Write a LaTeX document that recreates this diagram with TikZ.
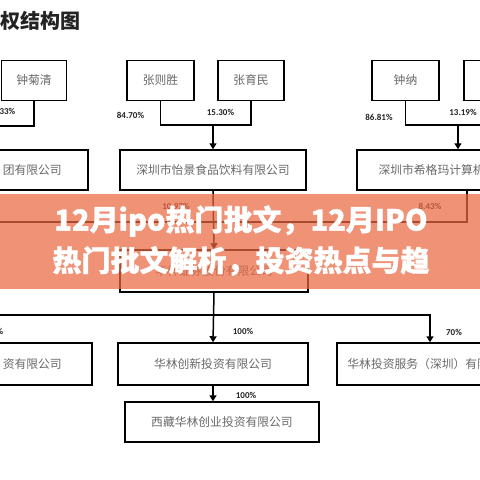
\documentclass[tikz,border=0pt]{standalone}
\usepackage{fontspec}
\newfontfamily\cjk{Noto Sans CJK SC}
\newfontfamily\cjkheavy{Noto Sans CJK SC}[FakeBold=1.2]
\newfontfamily\pctfont{Carlito}
\usetikzlibrary{arrows.meta}
\definecolor{boxtext}{RGB}{105,105,105}
\definecolor{pcttext}{RGB}{35,35,35}
\definecolor{banner}{RGB}{234,105,66}

\begin{document}
\begin{tikzpicture}[
    x=1pt, y=-1pt,
    >={Triangle[length=6pt,width=7pt]},
    line width=1.5pt,
    box/.style={draw, rectangle, minimum height=40pt, inner sep=0pt,
                font=\cjk\fontsize{11.8}{13}\selectfont, text=boxtext},
    cuttext/.style={anchor=west, inner sep=0pt,
                font=\cjk\fontsize{11.8}{13}\selectfont, text=boxtext},
    pct/.style={inner sep=0pt, font=\pctfont\bfseries\fontsize{9}{10}\selectfont, text=pcttext},
    headline/.style={inner sep=0pt, font=\cjkheavy\bfseries\fontsize{29}{31}\selectfont, text=white}
]
  \useasboundingbox (0,0) rectangle (480,480);
  \fill[white] (0,0) rectangle (480,480);

  % title
  \node[anchor=west, inner sep=0pt, font=\cjk\bfseries\fontsize{20}{22}\selectfont, text=pcttext] (title) at (0,21) {权结构图};

  % nodes
  \node[box, minimum width=65pt] (jjq) at (34,80.5)    {钟菊清};
  \node[box, minimum width=67pt] (zzs) at (160.5,80.5) {张则胜};
  \node[box, minimum width=66pt] (zym) at (251,80.5)   {张育民};
  \node[box, minimum width=67pt] (zn)  at (405.5,80.5) {钟纳};
  \node[box, minimum width=67pt] (cut) at (497.5,80.5) {};

  \node[box, minimum width=190pt] (jt)  at (-7,170)  {};
  \node[cuttext] (jtname) at (2,170) {团有限公司};
  \node[box, minimum width=186pt] (yj)  at (213,170) {深圳市怡景食品饮料有限公司};
  \node[box, minimum width=220pt] (xgm) at (467,170) {深圳市希格玛计算机技术有限公司};

  \node[box, minimum width=188pt, minimum height=42pt] (hl) at (214,271) {华林证券股份有限公司};

  \node[box, minimum width=194pt, minimum height=42pt] (tz) at (-5,364)  {};
  \node[cuttext] (tzname) at (2,364) {资有限公司};
  \node[box, minimum width=190pt, minimum height=42pt] (cx) at (213,364) {华林创新投资有限公司};
  \node[box, minimum width=186pt, minimum height=42pt] (fw) at (430,364) {华林投资服务（深圳）有限公司};

  \node[box, minimum width=194pt] (xz) at (222,422) {西藏华林创业投资有限公司};

  % percentages
  \node[pct, anchor=east] (p1) at (16,111) {33\%};
  \node[pct] (p2)  at (130.5,115) {84.70\%};
  \node[pct] (p3)  at (220.5,112) {15.30\%};
  \node[pct] (p4)  at (379,117)   {86.81\%};
  \node[pct] (p5)  at (463,112)   {13.19\%};
  \node[pct] (p6)  at (176,206)   {10.97\%};
  \node[pct] (p7)  at (430,206)   {8.43\%};
  \node[pct, anchor=east] (p8) at (4,331) {100\%};
  \node[pct] (p9)  at (243,331)   {100\%};
  \node[pct] (p10) at (454,332)   {70\%};
  \node[pct] (p11) at (246,395)   {100\%};

  % edges
  \coordinate (l1) at (-10,126);
  \coordinate (j1) at (213,125);
  \coordinate (j2) at (458,125);
  \coordinate (j3) at (213,222);
  \coordinate (j4) at (213,315);
  \draw (jjq.south) |- (l1);
  \draw (zzs.south) |- (j1) -| (zym.south);
  \draw[->] (j1) -- (yj.north);
  \draw (zn.south) |- (j2) -| (cut.south);
  \draw[->] (j2) -- (j2 |- xgm.north);
  \draw (jt.south) |- (j3) -| (xgm.south);
  \draw[->] (yj.south) -- (hl.north);
  \draw[->] (hl.south) -- (cx.north);
  \draw[->] (j4) -| (fw.north);
  \draw[->] (j4) -| (tz.north);
  \draw[->] (cx.south) -- (cx.south |- xz.north);

  % banner
  \fill[banner, opacity=0.72] (0,194) rectangle (480,289);
  \node[headline] (head1) at (241,221) {12月ipo热门批文，12月IPO};
  \node[headline] (head2) at (241,261) {热门批文解析，投资热点与趋};
\end{tikzpicture}
\end{document}
